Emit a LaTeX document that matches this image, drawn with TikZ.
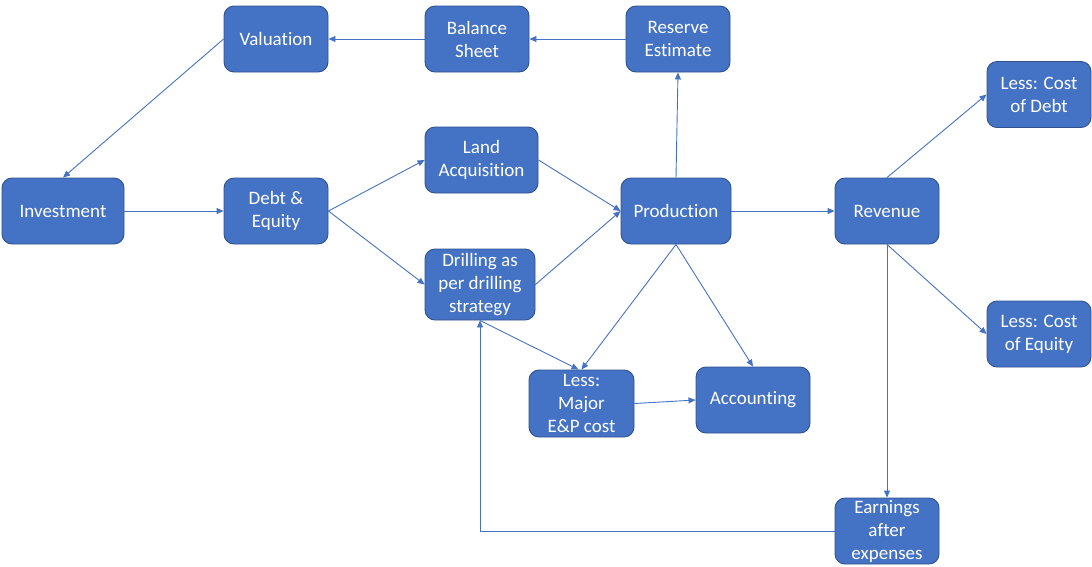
\documentclass[tikz,border=0pt]{standalone}
\usepackage{fontspec}
\setmainfont[Ligatures=NoCommon]{Carlito}
\usetikzlibrary{arrows.meta}
\definecolor{boxfill}{HTML}{4472C4}
\definecolor{boxline}{HTML}{2F528F}
\definecolor{linkc}{HTML}{4472C4}
\begin{document}
\begin{tikzpicture}[x=1pt,y=-1pt,
  box/.style={draw=boxline,line width=0.9pt,fill=boxfill,rounded corners=10pt,
    text=white,align=center,inner sep=0pt,minimum width=104pt,minimum height=66pt,
    font=\fontsize{19}{23}\selectfont},
  link/.style={draw=linkc,line width=0.9pt,-{Triangle[length=7pt,width=6pt]}}]
\useasboundingbox (0,0) rectangle (1092,566);
\node[box] (val) at (276,39) {Valuation};
\node[box] (bal) at (477,39) {Balance\\Sheet};
\node[box] (res) at (678,39) {Reserve\\Estimate};
\node[box] (cod) at (1039,94.5) {Less: Cost\\of Debt};
\node[box,minimum width=122pt] (inv) at (63,211) {Investment};
\node[box] (de) at (276,211) {Debt \&\\Equity};
\node[box,minimum width=113pt] (land) at (481.5,160) {Land\\Acquisition};
\node[box,minimum width=110pt,minimum height=71pt] (dri) at (480,284.5) {Drilling as\\per drilling\\strategy};
\node[box,minimum width=110pt] (prod) at (676,211) {Production};
\node[box] (rev) at (887,211) {Revenue};
\node[box] (coe) at (1039,334) {Less: Cost\\of Equity};
\node[box,minimum width=105pt,minimum height=67pt] (lem) at (581.5,403.5) {Less:\\Major\\E\&P cost};
\node[box,minimum width=114pt] (acc) at (753,400) {Accounting};
\node[box] (ear) at (887,531) {Earnings\\after\\expenses};
\draw[link] (val.west) -- (inv.north);
\draw[link] (bal.west) -- (val.east);
\draw[link] (res.west) -- (bal.east);
\draw[link] (prod.north) -- (res.south);
\draw[link] (inv.east) -- (de.west);
\draw[link] (de.east) -- (land.west);
\draw[link] (de.east) -- (dri.west);
\draw[link] (land.east) -- (prod.west);
\draw[link] (dri.east) -- (prod.west);
\draw[link] (prod.east) -- (rev.west);
\draw[link] (rev.north) -- (cod.west);
\draw[link] (rev.south) -- (coe.west);
\draw[link] (rev.south) -- (ear.north);
\draw[link] (prod.south) -- (lem.north);
\draw[link] (prod.south) -- (acc.north);
\draw[link] (dri.south) -- ([xshift=-3pt]lem.north);
\draw[link] (lem.east) -- (acc.west);
\draw[link] (ear.west) -| (dri.south);
\end{tikzpicture}
\end{document}
